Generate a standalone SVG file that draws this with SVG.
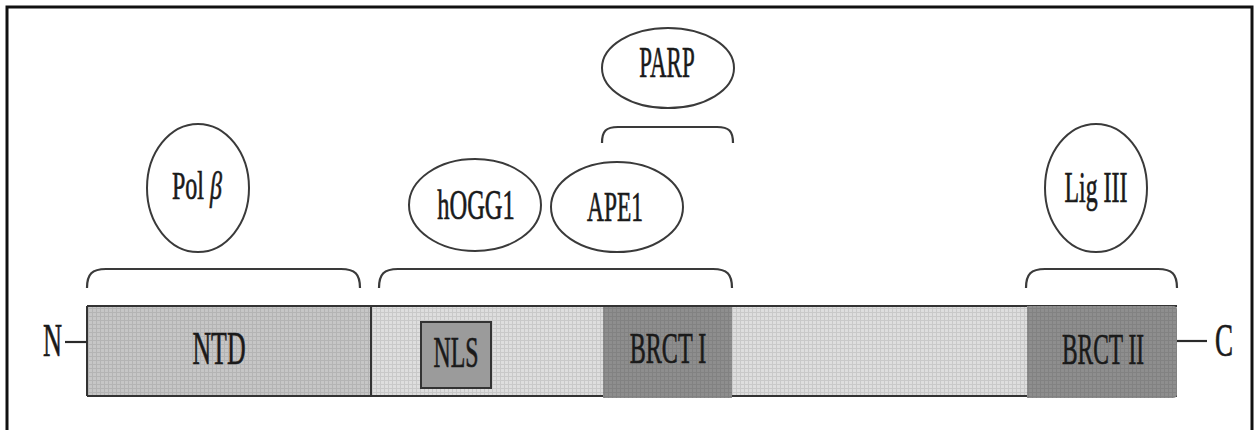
<svg xmlns="http://www.w3.org/2000/svg" width="1254" height="430" viewBox="0 0 1254 430">
  <defs>
    <!-- fine grid texture used by the protein bar segments -->
    <pattern id="gridLight" width="4" height="4" patternUnits="userSpaceOnUse">
      <rect width="4" height="4" fill="#dedede"/>
      <path d="M0,0.5 H4 M0.5,0 V4" stroke="#c9c9c9" stroke-width="1"/>
    </pattern>
    <pattern id="gridMid" width="4" height="4" patternUnits="userSpaceOnUse">
      <rect width="4" height="4" fill="#c6c6c6"/>
      <path d="M0,0.5 H4 M0.5,0 V4" stroke="#b4b4b4" stroke-width="1"/>
    </pattern>
    <pattern id="gridDark" width="4" height="4" patternUnits="userSpaceOnUse">
      <rect width="4" height="4" fill="#8e8e8e"/>
      <path d="M0,0.5 H4 M0.5,0 V4" stroke="#828282" stroke-width="1"/>
    </pattern>
    <style>
      .lbl { font-family: "Liberation Serif", "DejaVu Serif", serif; fill: #1a1a1a; stroke: #1a1a1a; stroke-width: 0.7; text-anchor: middle; }
      .partner { fill: #ffffff; stroke: #3a3a3a; stroke-width: 2; }
      .brace { fill: none; stroke: #3a3a3a; stroke-width: 2.2; }
      .tick { stroke: #2a2a2a; stroke-width: 2.2; }
      .frame { fill: none; stroke: #111111; stroke-width: 3; }
    </style>
  </defs>

  <rect width="1254" height="430" fill="#ffffff"/>
  <path class="frame" d="M7,430 V7 H1252 V430"/>

  <!-- protein bar -->
  <g id="bar">
    <rect x="371" y="306" width="806" height="90" fill="url(#gridLight)"/>
    <rect x="87" y="306" width="284" height="90" fill="url(#gridMid)"/>
    <path d="M87,306 H1177 M87,396 H1177" stroke="#333333" stroke-width="2.2" fill="none"/>
    <path d="M87,306 V396 M371,306 V396" stroke="#333333" stroke-width="2" fill="none"/>
  </g>

  <!-- labels use a horizontally condensed serif -->
  <g id="ntd">
    <text class="lbl" font-size="47" transform="translate(219,364) scale(0.55,1)">NTD</text>
  </g>

  <g id="nls">
    <rect x="421" y="322" width="70" height="66" fill="#9b9b9b" stroke="#333333" stroke-width="2"/>
    <text class="lbl" font-size="45" transform="translate(456,367) scale(0.53,1)">NLS</text>
  </g>

  <g id="brct1">
    <rect x="603" y="307" width="129" height="91" fill="url(#gridDark)"/>
    <text class="lbl" font-size="45" transform="translate(668,363) scale(0.535,1)">BRCT I</text>
  </g>

  <g id="brct2">
    <path d="M1027,306 H1173 Q1177,306 1177,310 V394 Q1177,398 1173,398 H1027 Z" fill="url(#gridDark)"/>
    <text class="lbl" font-size="45" transform="translate(1103,364) scale(0.52,1)">BRCT II</text>
  </g>

  <g id="n-term">
    <text class="lbl" font-size="47" transform="translate(52.5,356) scale(0.56,1)">N</text>
  </g>
  <g id="c-term">
    <text class="lbl" font-size="47" transform="translate(1224,356) scale(0.575,1)">C</text>
  </g>

  <!-- binding partners -->
  <g id="polb">
    <ellipse class="partner" cx="198" cy="188" rx="51" ry="64"/>
    <text class="lbl" font-size="40" transform="translate(197,199) scale(0.6,1)">Pol <tspan font-style="italic">β</tspan></text>
  </g>
  <g id="hogg1">
    <ellipse class="partner" cx="475" cy="205" rx="66" ry="46"/>
    <text class="lbl" font-size="43" transform="translate(476,219) scale(0.57,1)">hOGG1</text>
  </g>
  <g id="ape1">
    <ellipse class="partner" cx="617" cy="207" rx="66" ry="45"/>
    <text class="lbl" font-size="43" transform="translate(615,221) scale(0.545,1)">APE1</text>
  </g>
  <g id="parp">
    <ellipse class="partner" cx="668" cy="68" rx="66" ry="40"/>
    <text class="lbl" font-size="45" transform="translate(667,77) scale(0.51,1)">PARP</text>
  </g>
  <g id="lig3">
    <ellipse class="partner" cx="1096" cy="188" rx="51" ry="64"/>
    <text class="lbl" font-size="45" transform="translate(1096,202) scale(0.53,1)">Lig III</text>
  </g>

  <!-- connectors: terminus ticks and interaction braces -->
  <g id="connectors">
    <line class="tick" x1="65" y1="342" x2="87" y2="342"/>
    <line class="tick" x1="1177" y1="341" x2="1207" y2="341"/>
    <path class="brace" d="M87,288 C87,274 92,269 106,269 H341 C355,269 360,274 360,288"/>
    <path class="brace" d="M379,288 C379,274 384,269 398,269 H713 C727,269 732,274 732,288"/>
    <path class="brace" d="M602,143 C602,131 606,127 618,127 H717 C729,127 733,131 733,143"/>
    <path class="brace" d="M1026,288 C1026,274 1031,269 1045,269 H1158 C1172,269 1177,274 1177,288"/>
  </g>
</svg>
